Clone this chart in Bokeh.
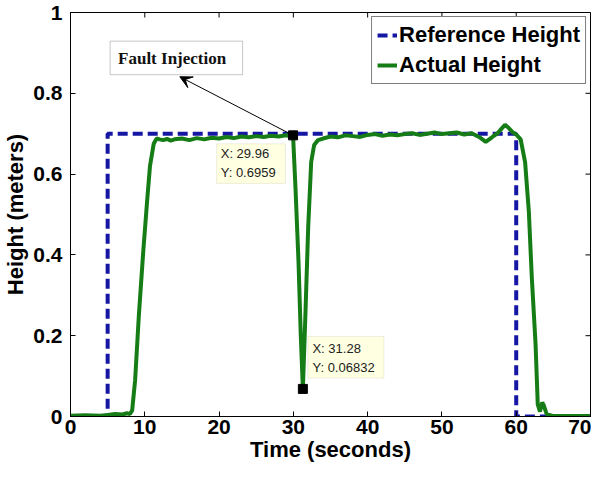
from bokeh.plotting import figure
from bokeh.models import (Range1d, FixedTicker, BoxAnnotation, Label, Arrow, VeeHead)
from bokeh.embed import file_html
from bokeh.resources import INLINE

# ---------------- data ----------------
ref_t = [0, 5, 5, 60, 60, 70]
ref_h = [0, 0, 0.7, 0.7, 0, 0]

act_t = [0, 2, 4, 5, 6, 7, 7.6, 8.0, 8.3, 8.7, 9.2, 9.8, 10.3, 10.7, 11.2, 11.6,
         12.0, 12.5, 13, 13.5, 14, 15, 16, 17, 18, 19, 20, 21, 22, 23, 24, 25, 26,
         27, 28, 29, 29.5, 29.96, 30.3, 30.7, 31.0, 31.28, 31.6, 32.0, 32.4, 32.8,
         33.3, 34, 35, 36, 37, 38, 39, 40, 41, 42, 43, 44, 45, 46, 47, 48, 49, 50,
         51, 52, 53, 54, 55, 55.9, 56.5, 57, 57.5, 58, 58.5, 59, 59.5, 60, 60.6,
         61.2, 61.7, 62.1, 62.6, 62.9, 63.2, 63.5, 63.7, 64.1, 65, 67, 70]
act_h = [0.002, 0.003, 0.002, 0.004, 0.006, 0.005, 0.008, 0.006, 0.015, 0.09, 0.25,
         0.41, 0.53, 0.62, 0.675, 0.688,
         0.686, 0.684, 0.687, 0.683, 0.686, 0.688, 0.684, 0.689, 0.686, 0.690, 0.688,
         0.692, 0.689, 0.693, 0.691, 0.694, 0.692, 0.695, 0.693, 0.696, 0.694,
         0.6959, 0.56, 0.38, 0.2, 0.06832, 0.24, 0.47, 0.63, 0.672,
         0.684, 0.688, 0.693, 0.691, 0.696, 0.694, 0.692, 0.697, 0.699, 0.695, 0.698,
         0.696, 0.699, 0.701, 0.697, 0.700, 0.703, 0.699, 0.701, 0.703, 0.698, 0.701,
         0.692, 0.680, 0.688, 0.695, 0.701, 0.712, 0.722, 0.714, 0.704, 0.698, 0.686,
         0.629, 0.507, 0.344, 0.181, 0.03, 0.012, 0.035, 0.028, 0.006, 0.001, 0.001,
         0.001]

tip_x = [29.96, 31.28]
tip_y = [0.6959, 0.06832]

x_ticks = [0, 10, 20, 30, 40, 50, 60, 70]
x_tick_labels = ["0", "10", "20", "30", "40", "50", "60", "70"]
y_ticks = [0, 0.2, 0.4, 0.6, 0.8, 1]
y_tick_labels = ["0", "0.2", "0.4", "0.6", "0.8", "1"]

FONT = "Liberation Sans"
BLUE = "#1616a4"
GREEN = "#167d16"

p = figure(width=591, height=464, x_range=Range1d(0, 70), y_range=Range1d(0, 1),
           output_backend="svg", toolbar_location=None,
           min_border_left=69, min_border_right=1, min_border_top=12,
           min_border_bottom=45)
p.grid.visible = False
p.outline_line_color = "black"
p.outline_line_width = 1
p.background_fill_color = "white"
p.border_fill_color = "white"

for ax, ticks, labels in ((p.xaxis[0], x_ticks, x_tick_labels),
                          (p.yaxis[0], y_ticks, y_tick_labels)):
    ax.ticker = FixedTicker(ticks=ticks)
    ax.major_label_overrides = dict(zip(ticks, labels))
    ax.major_label_text_font = FONT
    ax.major_label_text_font_style = "bold"
    ax.major_label_text_font_size = "21px"
    ax.major_label_text_color = "black"
    ax.major_tick_in = 5
    ax.major_tick_out = 0
    ax.minor_tick_line_color = None
    ax.axis_line_color = "black"
    ax.major_tick_line_color = "black"
    ax.axis_label_text_font = FONT
    ax.axis_label_text_font_style = "bold"
    ax.axis_label_text_font_size = "22px"
    ax.axis_label_text_color = "black"

p.xaxis.axis_label = "Time (seconds)"
p.yaxis.axis_label = "Height (meters)"
p.xaxis.major_label_standoff = 3
p.xaxis.axis_label_standoff = 0
p.yaxis.major_label_standoff = 8
p.yaxis.axis_label_standoff = 2

# inward ticks on the top and right edges of the box
p.ray(x=x_ticks, y=[y_ticks[-1]] * len(x_ticks), length=5, length_units="screen",
      angle=-90, angle_units="deg", line_color="black", line_width=1)
p.ray(x=[x_ticks[-1]] * len(y_ticks), y=y_ticks, length=5, length_units="screen",
      angle=180, angle_units="deg", line_color="black", line_width=1)

ref = p.line(ref_t, ref_h, line_color=BLUE, line_width=4, line_dash="10 5",
             legend_label="Reference Height")
act = p.line(act_t, act_h, line_color=GREEN, line_width=4,
             legend_label="Actual Height")

leg = p.legend[0]
leg.location = "top_right"
leg.margin = 4
leg.padding = 5
leg.spacing = 4
leg.glyph_width = 20
leg.glyph_height = 20
leg.label_height = 20
leg.label_standoff = 2
leg.label_text_font = FONT
leg.label_text_font_style = "bold"
leg.label_text_font_size = "22px"
leg.label_text_color = "black"
leg.border_line_color = "black"
leg.border_line_width = 1
leg.background_fill_alpha = 1

# data tips
tip_fill = "#ffffe1"
tip_line = "#c8c8b0"
p.add_layout(BoxAnnotation(left=19.67, right=28.93, top=0.675, bottom=0.577,
                           fill_color=tip_fill, fill_alpha=1, line_color=tip_line,
                           line_width=1))
p.add_layout(BoxAnnotation(left=31.96, right=42.18, top=0.198, bottom=0.095,
                           fill_color=tip_fill, fill_alpha=1, line_color=tip_line,
                           line_width=1))
tip_text_pos = [((20.22, 0.650), (20.22, 0.604)), ((32.57, 0.169), (32.57, 0.122))]
for (xx, yy), pos in zip(zip(tip_x, tip_y), tip_text_pos):
    for txt, (lx, ly) in zip((f"X: {xx}", f"Y: {yy}"), pos):
        p.add_layout(Label(x=lx, y=ly, text=txt, text_font=FONT,
                           text_font_size="13px", text_color="#222222",
                           text_baseline="middle"))

# fault injection annotation
p.add_layout(BoxAnnotation(left=5.33, right=23.17, top=0.929, bottom=0.846,
                           fill_color="white", fill_alpha=1, line_color="#444444",
                           line_width=1))
p.add_layout(Label(x=6.4, y=0.887, text="Fault Injection",
                   text_font="Liberation Serif", text_font_style="bold",
                   text_font_size="17px", text_color="#111111",
                   text_baseline="middle"))
p.add_layout(Arrow(end=VeeHead(size=12, fill_color="black", line_color="black"),
                   x_start=tip_x[0], y_start=tip_y[0], x_end=14.72, y_end=0.841,
                   line_color="black", line_width=1))

p.scatter(tip_x, tip_y, marker="square", size=9, color="black")

open("out.html", "w").write(file_html(p, INLINE))
